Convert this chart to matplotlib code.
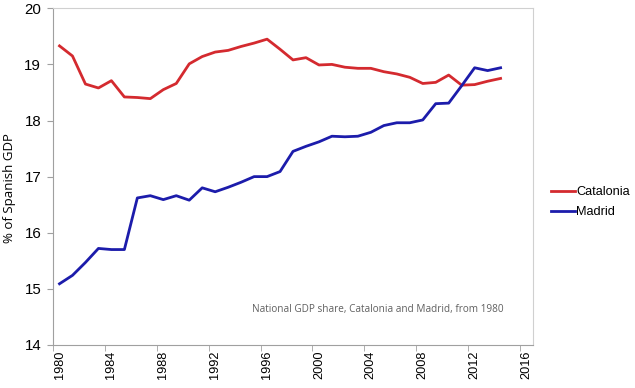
import matplotlib
matplotlib.use("Agg")
import matplotlib.pyplot as plt
import numpy as np

years = list(range(1980, 2015))
catalonia = [19.33, 19.15, 18.65, 18.58, 18.71, 18.42, 18.41, 18.39, 18.55, 18.66,
             19.01, 19.14, 19.22, 19.25, 19.32, 19.38, 19.45, 19.27, 19.08, 19.12,
             18.99, 19.00, 18.95, 18.93, 18.93, 18.87, 18.83, 18.77, 18.66, 18.68,
             18.81, 18.63, 18.64, 18.70, 18.75]
madrid = [15.09, 15.24, 15.47, 15.72, 15.70, 15.70, 16.62, 16.66, 16.59, 16.66,
          16.58, 16.80, 16.73, 16.81, 16.90, 17.00, 17.00, 17.09, 17.45, 17.54,
          17.62, 17.72, 17.71, 17.72, 17.79, 17.91, 17.96, 17.96, 18.01, 18.30,
          18.31, 18.62, 18.94, 18.89, 18.94]
year_labels = list(range(1980, 2017, 4))
y_ticks = [14, 15, 16, 17, 18, 19, 20]
note = "National GDP share, Catalonia and Madrid, from 1980"

plt.rcParams["font.family"] = ["Liberation Sans", "DejaVu Sans"]
fig = plt.figure(figsize=(6.35, 3.88), dpi=100)
ax = fig.add_axes([0.0835, 0.111, 0.7559, 0.8676])

ax.plot(years, catalonia, c="#d42a2f", lw=2.0, label="Catalonia")
ax.plot(years, madrid, c="#1c1cab", lw=2.0, label="Madrid")

ax.set_xlim(1979.5, 2016.5)
ax.set_ylim(14, 20)
ax.set_yticks(y_ticks)
ax.set_xticks(year_labels)
ax.set_xticklabels([str(y) for y in year_labels], rotation=90)
ax.set_xticks(np.arange(1979.5, 2017, 4), minor=True)
ax.tick_params(axis="x", which="major", length=0, pad=4, labelsize=9.2)
ax.tick_params(axis="x", which="minor", length=4, color="#a0a0a0", direction="out")
ax.tick_params(axis="y", length=4, color="#a0a0a0", labelsize=10.8, pad=4.5)
for s in ["left", "bottom"]:
    ax.spines[s].set_color("#a0a0a0")
for s in ["top", "right"]:
    ax.spines[s].set_color("#d0d0d0")
ax.set_ylabel("% of Spanish GDP", fontsize=9.5, family=["Open Sans", "DejaVu Sans"])
ax.yaxis.set_label_coords(-0.077, 0.467)

ax.text(2014.27, 14.63, note, ha="right", va="center", fontsize=7.2,
        color="#606060", family=["Open Sans", "DejaVu Sans"])

ax.legend(loc="center left", bbox_to_anchor=(1.037, 0.424), frameon=False,
          fontsize=9.2, handlelength=1.9, handletextpad=0.1, labelspacing=0.6,
          borderpad=0, borderaxespad=0)

fig.savefig("out.png", dpi=100)
